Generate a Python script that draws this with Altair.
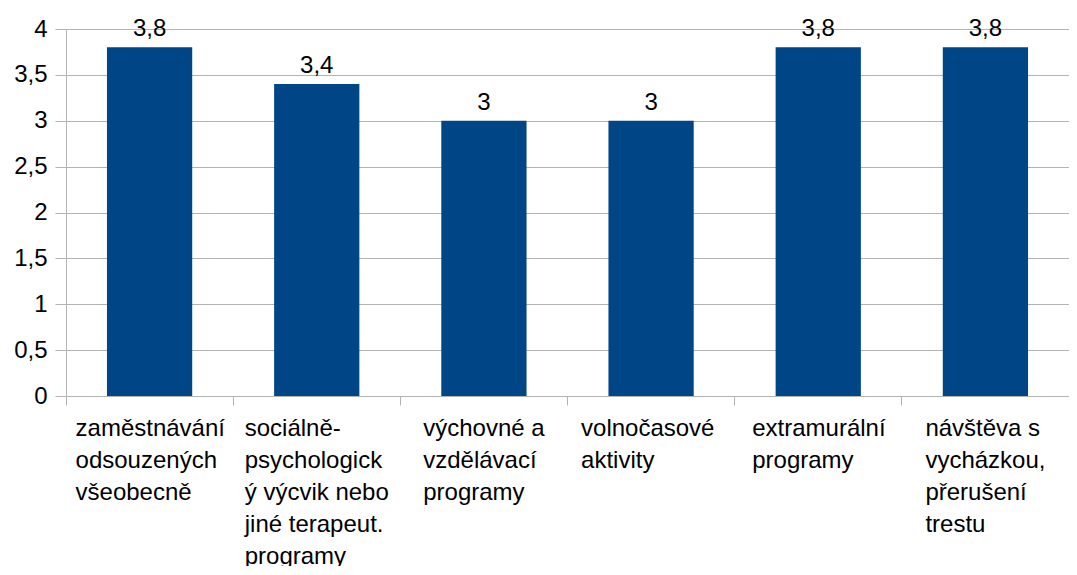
import altair as alt
import pandas as pd

categories = [
    "zaměstnávání|odsouzených|všeobecně",
    "sociálně-|psychologick|ý výcvik nebo|jiné terapeut.|programy",
    "výchovné a|vzdělávací|programy",
    "\u00a0volnočasové|aktivity",
    "extramurální|programy",
    "návštěva s|vycházkou,|přerušení|trestu",
]
values = [3.8, 3.4, 3.0, 3.0, 3.8, 3.8]

df = pd.DataFrame({"cat": categories, "val": values})

FONT = "Liberation Sans"
GRID = "#b3b3b3"
W, H = 1003, 367
LABEL_SIZE = 24

# approximate Arial/Liberation Sans advance widths (per 1000 em), used to centre
# each left-aligned label block on its category band
ADV = {c: 556 for c in "abdeghnopqu"}
ADV.update({"c": 500, "k": 500, "s": 500, "v": 500, "x": 500, "y": 500, "z": 500,
            "f": 278, "t": 278, "i": 222, "j": 222, "l": 222, "m": 833, "r": 333,
            "w": 722, " ": 278, "\u00a0": 278, ".": 278, ",": 278, "-": 333})
BASE = str.maketrans("áéěíóúůýčďňřšťž", "aeeiouuycdnrstz")


def text_width(s):
    return sum(ADV.get(ch, 556) for ch in s.translate(BASE)) * LABEL_SIZE / 1000


conds = []
for c in categories:
    w = max(text_width(line) for line in c.split("|"))
    conds.append({"test": f"datum.value === '{c}'", "value": -w / 2})

x = alt.X("cat:N", sort=categories, title=None,
          scale=alt.Scale(paddingInner=0, paddingOuter=0),
          axis=alt.Axis(labelAngle=0, labelAlign="left", labelBaseline="top",
                        bandPosition=0,
                        labelOffset={"condition": conds, "value": -70},
                        labelExpr="split(datum.label, '|')",
                        labelFontSize=LABEL_SIZE, labelLineHeight=32, labelFont=FONT,
                        labelColor="black", labelPadding=11,
                        tickSize=9, tickColor=GRID, domainColor=GRID,
                        labelLimit=300, grid=False))
y = alt.Y("val:Q", title=None,
          scale=alt.Scale(domain=[0, 4], nice=False),
          axis=alt.Axis(values=[0, 0.5, 1, 1.5, 2, 2.5, 3, 3.5, 4],
                        labelExpr="replace(toString(datum.value), '.', ',')",
                        labelFontSize=24, labelFont=FONT, labelColor="black",
                        labelPadding=8, tickSize=11, tickColor=GRID,
                        domainColor=GRID, gridColor=GRID))

bars = alt.Chart(df).mark_bar(color="#004586", width=alt.RelativeBandSize(0.51)).encode(x=x, y=y)
text = alt.Chart(df).transform_calculate(
    lab="replace(toString(datum.val), '.', ',')"
).mark_text(dy=-11, fontSize=24, font=FONT, color="black", baseline="alphabetic").encode(
    x=alt.X("cat:N", sort=categories), y="val:Q", text="lab:N")

chart = (bars + text).properties(
    width=W, height=H,
    autosize=alt.AutoSizeParams(type="none"),
    padding={"left": 58, "top": 21, "right": 0, "bottom": 170},
).configure_view(stroke=None).configure(background="white")

chart.save("out.html", embed_options={"renderer": "svg", "actions": False})
